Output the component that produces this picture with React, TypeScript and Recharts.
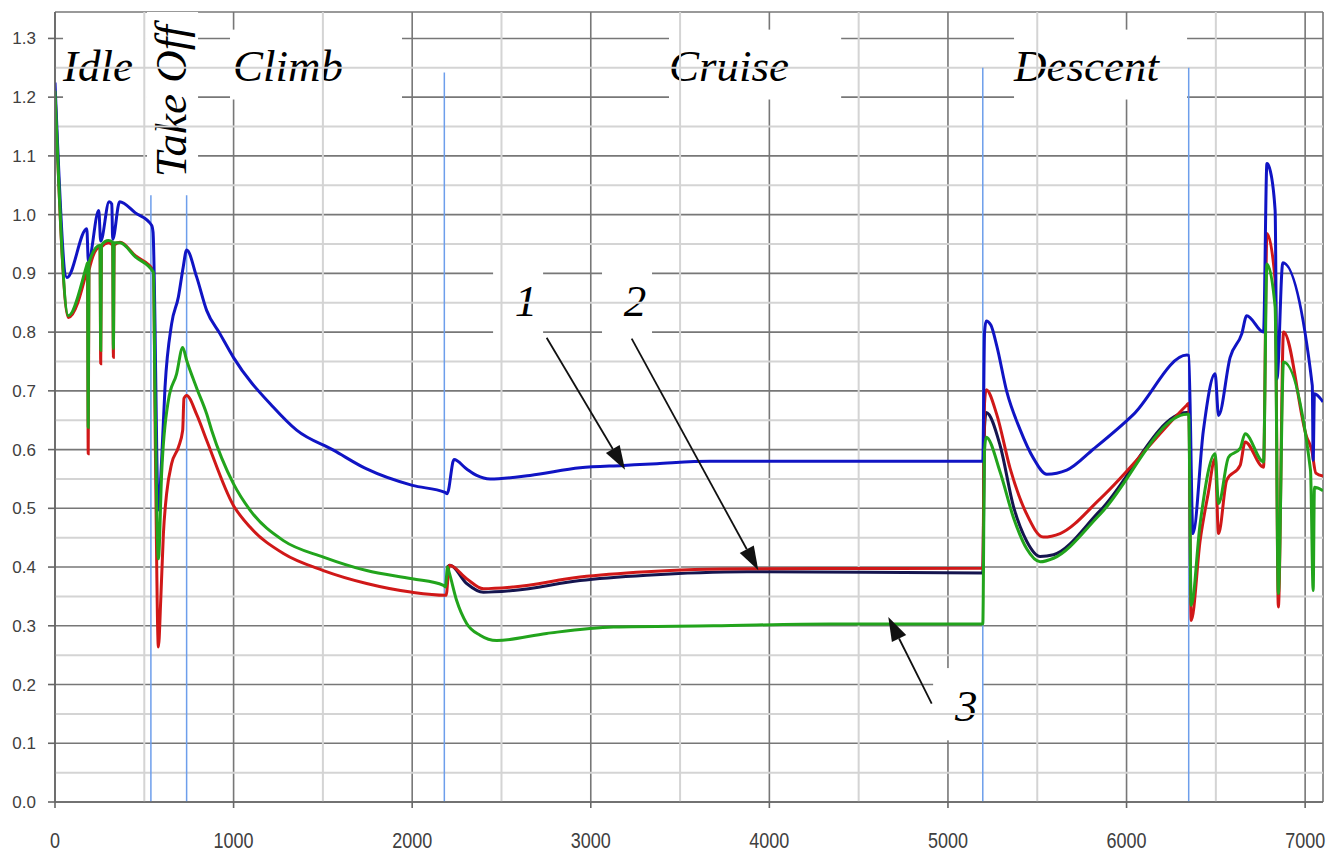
import React from 'react';
import { LineChart, Line, XAxis, YAxis, CartesianGrid, ReferenceLine, ReferenceArea } from 'recharts';

type Pt = [number, number];

// axes
const xTicks = [0, 1000, 2000, 3000, 4000, 5000, 6000, 7000];
const xMinorTicks = [500, 1500, 2500, 3500, 4500, 5500, 6500];
const yTicks = [0, 0.1, 0.2, 0.3, 0.4, 0.5, 0.6, 0.7, 0.8, 0.9, 1.0, 1.1, 1.2, 1.3];
const yMinorTicks = [0.05, 0.15, 0.25, 0.35, 0.45, 0.55, 0.65, 0.75, 0.85, 0.95, 1.05, 1.15, 1.25];

// flight phase boundaries
const phaseX = [537, 737, 2180, 5195, 6348];
const phaseTop = [1.033, 1.033, 1.242, 1.25, 1.25];
const phaseNames = ['Idle', 'Take Off', 'Climb', 'Cruise', 'Descent'];
const phaseBoxes: [number, number, number, number][] = [
  [45, 515, 1.196, 1.315],
  [515, 801, 1.05, 1.345],
  [980, 1943, 1.196, 1.315],
  [3438, 4402, 1.196, 1.315],
  [5370, 6339, 1.196, 1.315],
];

// curve numbers and arrows
const curveNames = ['1', '2', '3'];
const curveBoxes: [number, number, number, number][] = [
  [2453, 2733, 0.79, 0.917],
  [3063, 3343, 0.79, 0.917],
  [4917, 5197, 0.105, 0.228],
];
const arrows: [number, number, number, number][] = [
  [2753, 0.7905, 3192, 0.5658],
  [3229, 0.7888, 3938, 0.3944],
  [4909, 0.1675, 4666, 0.3149],
];

// curve 1 (blue)
const curve1: Pt[] = [
  [0, 1.225], [67, 0.893], [178, 0.976], [187, 0.92], [245, 1.007], [256, 0.955],
  [303, 1.022], [318, 1.018], [323, 0.958], [362, 1.022], [450, 1.003], [541, 0.982],
  [549, 0.97], [579, 0.497], [597, 0.582], [616, 0.706], [653, 0.814], [691, 0.86],
  [718, 0.911], [737, 0.94], [793, 0.894], [849, 0.837], [924, 0.797], [999, 0.757],
  [1223, 0.672], [1353, 0.633], [1559, 0.599], [1745, 0.567], [2001, 0.539], [2184, 0.527],
  [2196, 0.525], [2234, 0.583], [2305, 0.567], [2361, 0.556], [2436, 0.55], [2660, 0.556],
  [2940, 0.569], [3183, 0.573], [3370, 0.576], [3668, 0.58], [4400, 0.58], [5195, 0.58],
  [5205, 0.8], [5214, 0.819], [5240, 0.812], [5273, 0.777], [5329, 0.699], [5404, 0.634],
  [5479, 0.585], [5553, 0.558], [5665, 0.565], [5815, 0.601], [6039, 0.66], [6338, 0.761],
  [6348, 0.76], [6372, 0.457], [6430, 0.632], [6496, 0.729], [6515, 0.658], [6580, 0.757],
  [6645, 0.797], [6673, 0.828], [6767, 0.8], [6786, 1.087], [6800, 1.08], [6832, 1.007],
  [6842, 0.72], [6875, 0.918], [7040, 0.709], [7045, 0.582], [7052, 0.695], [7100, 0.681],
];

// curve 2 (red)
const curve2: Pt[] = [
  [0, 1.21], [75, 0.825], [178, 0.905], [182, 0.91], [186, 0.593], [190, 0.905],
  [252, 0.945], [256, 0.746], [260, 0.945], [299, 0.952], [323, 0.948], [327, 0.757],
  [331, 0.948], [364, 0.953], [450, 0.93], [551, 0.905], [562, 0.6], [579, 0.264],
  [592, 0.343], [607, 0.457], [625, 0.525], [653, 0.576], [691, 0.604], [715, 0.633],
  [722, 0.687], [737, 0.692], [793, 0.66], [849, 0.616], [999, 0.505], [1092, 0.468],
  [1279, 0.423], [1503, 0.394], [1745, 0.372], [2001, 0.357], [2184, 0.352], [2190, 0.352],
  [2208, 0.403], [2305, 0.38], [2399, 0.363], [2567, 0.366], [2940, 0.383], [3313, 0.392],
  [3873, 0.397], [5195, 0.398], [5205, 0.68], [5214, 0.702], [5273, 0.66], [5348, 0.568],
  [5441, 0.49], [5534, 0.451], [5628, 0.457], [5852, 0.516], [6338, 0.676], [6348, 0.679],
  [6362, 0.309], [6412, 0.445], [6457, 0.525], [6496, 0.585], [6515, 0.457], [6561, 0.548],
  [6636, 0.573], [6664, 0.613], [6767, 0.57], [6786, 0.968], [6832, 0.888], [6850, 0.332],
  [6879, 0.8], [7009, 0.621], [7037, 0.599], [7060, 0.56], [7100, 0.555],
];

// curve 2 (dark navy companion)
const curve2b: Pt[] = [
  [2196, 0.4], [2212, 0.403], [2305, 0.372], [2399, 0.357], [2567, 0.36], [2940, 0.377],
  [3313, 0.386], [3873, 0.392], [5195, 0.39], [5205, 0.64], [5214, 0.663], [5292, 0.607],
  [5367, 0.503], [5441, 0.444], [5516, 0.418], [5591, 0.421], [5852, 0.496], [6338, 0.663],
  [6348, 0.663],
];

// curve 3 (green)
const curve3: Pt[] = [
  [0, 1.211], [75, 0.828], [178, 0.914], [182, 0.918], [186, 0.638], [190, 0.918],
  [252, 0.948], [256, 0.769], [260, 0.948], [299, 0.956], [323, 0.953], [327, 0.772],
  [331, 0.952], [364, 0.952], [450, 0.928], [551, 0.902], [560, 0.7], [579, 0.414],
  [597, 0.559], [635, 0.684], [681, 0.729], [715, 0.774], [737, 0.752], [793, 0.705],
  [849, 0.661], [877, 0.633], [999, 0.542], [1092, 0.497], [1279, 0.445], [1503, 0.417],
  [1745, 0.394], [2001, 0.38], [2175, 0.369], [2186, 0.366], [2198, 0.4], [2208, 0.39],
  [2249, 0.343], [2305, 0.304], [2380, 0.284], [2473, 0.275], [2753, 0.287], [3127, 0.298],
  [3687, 0.3], [4340, 0.303], [5195, 0.303], [5205, 0.6], [5214, 0.621], [5292, 0.562],
  [5367, 0.484], [5441, 0.431], [5516, 0.409], [5591, 0.415], [5852, 0.49], [6338, 0.66],
  [6348, 0.66], [6362, 0.335], [6412, 0.474], [6496, 0.593], [6515, 0.508], [6571, 0.587],
  [6636, 0.602], [6664, 0.627], [6767, 0.579], [6786, 0.916], [6832, 0.843], [6850, 0.355],
  [6879, 0.749], [7030, 0.565], [7045, 0.36], [7052, 0.536], [7100, 0.53],
];

const toRows = (pts: Pt[]) => pts.map(([x, y]) => ({ x, y }));
const data1 = toRows(curve1);
const data2 = toRows(curve2);
const data2b = toRows(curve2b);
const data3 = toRows(curve3);

const SERIF = "'Liberation Serif', 'Times New Roman', serif";
const SANS = "'Liberation Sans', Arial, sans-serif";

const XTick = (props: any) => {
  const { x, y, payload } = props;
  return (
    <g transform={`translate(${x},${y}) scale(1,1.25)`}>
      <text x={0} y={0} dy="0.71em" textAnchor="middle" fontFamily={SANS} fontSize={18} fill="#404040">
        {payload.value}
      </text>
    </g>
  );
};

const phaseShape = (i: number) => (props: any) => {
  const { x, y, width, height } = props;
  const name = phaseNames[i];
  let text;
  if (name === 'Take Off') {
    const tx = x + 39;
    const ty = y + height - 8;
    text = (
      <text x={tx} y={ty} transform={`rotate(-90 ${tx} ${ty})`} fontFamily={SERIF} fontStyle="italic" fontSize={45} fill="#000">
        {name}
      </text>
    );
  } else {
    text = (
      <text x={x + (name === 'Climb' ? 3 : 0)} y={y + 51} fontFamily={SERIF} fontStyle="italic" fontSize={45} fill="#000">
        {name}
      </text>
    );
  }
  return (
    <g>
      <rect x={x} y={y} width={width} height={height} fill="#ffffff" />
      {text}
    </g>
  );
};

const numberShape = (i: number) => (props: any) => {
  const { x, y, width, height } = props;
  return (
    <g>
      <rect x={x} y={y} width={width} height={height} fill="#ffffff" />
      <text x={x + width / 2 + 8} y={y + 53} textAnchor="middle" fontFamily={SERIF} fontStyle="italic" fontSize={45} fill="#000">
        {curveNames[i]}
      </text>
    </g>
  );
};

const ArrowShape = (props: any) => {
  const { x1, y1, x2, y2 } = props;
  const dx = x2 - x1;
  const dy = y2 - y1;
  const len = Math.hypot(dx, dy) || 1;
  const ux = dx / len;
  const uy = dy / len;
  const headL = 24;
  const headW = 8;
  const bx = x2 - ux * headL;
  const by = y2 - uy * headL;
  const px = -uy;
  const py = ux;
  return (
    <g>
      <line x1={x1} y1={y1} x2={bx} y2={by} stroke="#111" strokeWidth={1.8} />
      <polygon
        points={`${x2},${y2} ${bx + px * headW},${by + py * headW} ${bx - px * headW},${by - py * headW}`}
        fill="#111"
      />
    </g>
  );
};

export default function App() {
  return (
    <div style={{ width: 1325, height: 843 }}>
      <style>{'html, body { overflow: hidden; }'}</style>
      <LineChart width={1325} height={843} margin={{ top: 4, right: 10, bottom: 0, left: 0 }}>
        {yMinorTicks.map((v) => (
          <ReferenceLine key={'ym' + v} y={v} stroke="#d4d4d4" strokeWidth={2} />
        ))}
        {xMinorTicks.map((v) => (
          <ReferenceLine key={'xm' + v} x={v} stroke="#d4d4d4" strokeWidth={2} />
        ))}
        <CartesianGrid stroke="#777777" strokeWidth={1.6} />
        <XAxis
          type="number"
          dataKey="x"
          domain={[0, 7100]}
          ticks={xTicks}
          allowDataOverflow
          height={49}
          tickSize={6}
          tickMargin={24}
          tick={<XTick />}
          axisLine={{ stroke: '#666', strokeWidth: 1.6 }}
          tickLine={{ stroke: '#666', strokeWidth: 1.6 }}
        />
        <YAxis
          type="number"
          domain={[0, 1.345]}
          ticks={yTicks}
          allowDataOverflow
          width={47}
          tickSize={7}
          tickMargin={12}
          tickFormatter={(v: number) => v.toFixed(1)}
          tick={{ fill: '#404040', fontSize: 17, fontFamily: SANS }}
          axisLine={{ stroke: '#666', strokeWidth: 1.6 }}
          tickLine={{ stroke: '#666', strokeWidth: 1.6 }}
        />
        {phaseX.map((b, i) => (
          <ReferenceLine
            key={'ph' + i}
            segment={[{ x: b, y: 0 }, { x: b, y: phaseTop[i] }]}
            stroke="#6d9eeb"
            strokeWidth={1.5}
          />
        ))}
        <Line data={data2b} dataKey="y" type="monotone" stroke="#15154f" strokeWidth={3} dot={false} isAnimationActive={false} />
        <Line data={data2} dataKey="y" type="monotone" stroke="#d01818" strokeWidth={3} dot={false} isAnimationActive={false} />
        <Line data={data1} dataKey="y" type="monotone" stroke="#1014c4" strokeWidth={3} dot={false} isAnimationActive={false} />
        <Line data={data3} dataKey="y" type="monotone" stroke="#22a41c" strokeWidth={3} dot={false} isAnimationActive={false} />
        {phaseBoxes.map((b, i) => (
          <ReferenceArea key={'pb' + i} x1={b[0]} x2={b[1]} y1={b[2]} y2={b[3]} shape={phaseShape(i)} />
        ))}
        {curveBoxes.map((b, i) => (
          <ReferenceArea key={'cb' + i} x1={b[0]} x2={b[1]} y1={b[2]} y2={b[3]} shape={numberShape(i)} />
        ))}
        {arrows.map((a, i) => (
          <ReferenceLine
            key={'ar' + i}
            segment={[{ x: a[0], y: a[1] }, { x: a[2], y: a[3] }]}
            shape={ArrowShape}
          />
        ))}
      </LineChart>
    </div>
  );
}
